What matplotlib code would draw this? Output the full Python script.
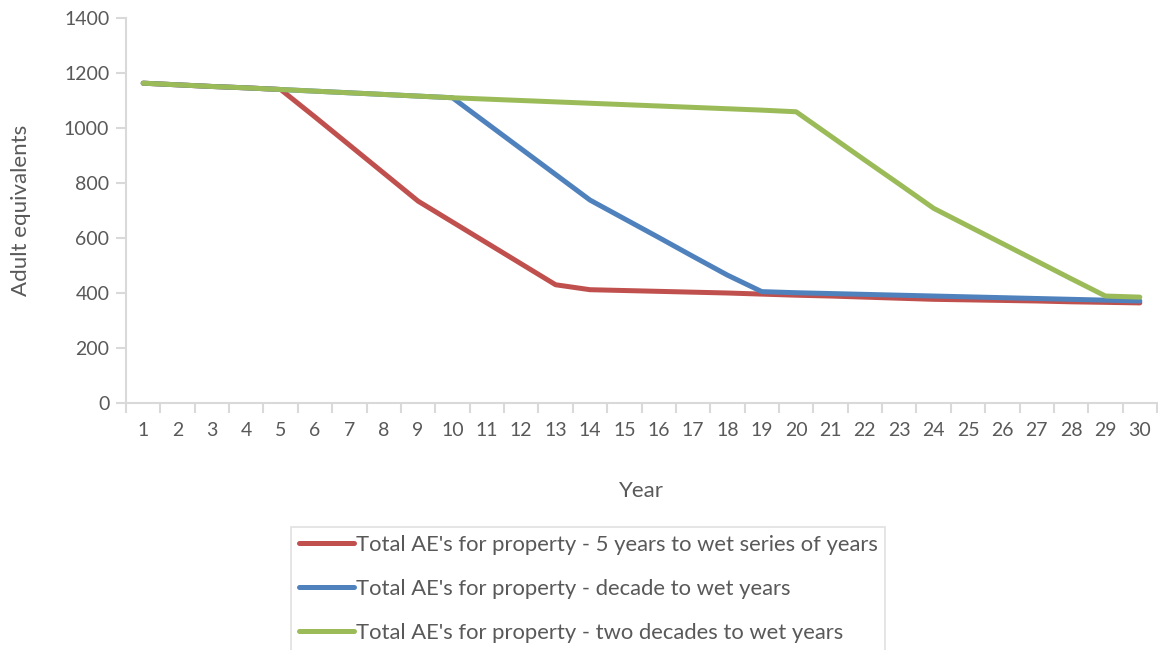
import numpy as np
import matplotlib.pyplot as plt

plt.rcParams['font.family'] = ['Lato', 'DejaVu Sans']

years = list(range(1, 31))

# adult equivalents per year for each scenario
ae_5yr = [1163, 1157, 1151, 1146, 1140, 1040, 938, 836, 734,
          658, 582, 506, 430, 412, 409, 406, 403, 400, 396, 392,
          389, 385, 381, 377, 375, 373, 371, 368, 366, 364]
ae_decade = [1163, 1157, 1151, 1146, 1140, 1134, 1128, 1122, 1116, 1110,
             1017, 924, 831, 738, 670, 602, 533, 465, 405, 401,
             398, 395, 392, 389, 386, 383, 380, 377, 374, 371]
ae_two_decades = [1163, 1157, 1151, 1146, 1140, 1134, 1128, 1122, 1116, 1110,
                  1105, 1100, 1095, 1090, 1085, 1080, 1075, 1070, 1065, 1059,
                  971, 883, 796, 708, 644, 580, 516, 452, 389, 385]

labels = ["Total AE's for property - 5 years to wet series of years",
          "Total AE's for property - decade to wet years",
          "Total AE's for property - two decades to wet years"]
colors = ['#C0504D', '#4F81BD', '#9BBB59']

fig = plt.figure(figsize=(11.58, 6.5), dpi=100)
ax = fig.add_axes([126 / 1158, 1 - 403 / 650, 1031 / 1158, 385 / 650])

x = np.arange(len(years))
for series, lab, col in zip([ae_5yr, ae_decade, ae_two_decades], labels, colors):
    ax.plot(x, series, color=col, lw=3.6, label=lab,
            solid_capstyle='round', solid_joinstyle='round')

ax.set_xlim(-0.5, len(years) - 0.5)
ax.set_ylim(0, 1400)
ax.set_yticks(range(0, 1401, 200))
ax.set_xticks(x)
ax.set_xticklabels([str(y) for y in years])
ax.set_xticks(np.arange(-0.5, len(years), 1), minor=True)

text_col = '#595959'
axis_col = '#d9d9d9'
for side in ['top', 'right']:
    ax.spines[side].set_visible(False)
for side in ['left', 'bottom']:
    ax.spines[side].set_color(axis_col)
    ax.spines[side].set_linewidth(1.5)

ax.tick_params(axis='x', which='major', length=0, labelsize=14,
               labelcolor=text_col, pad=14)
ax.tick_params(axis='x', which='minor', length=7, width=1.5, color=axis_col)
ax.tick_params(axis='y', length=7, width=1.5, color=axis_col,
               labelsize=14, labelcolor=text_col, pad=5)

ax.set_xlabel('Year', fontsize=16, color=text_col, labelpad=30)
ax.set_ylabel('Adult equivalents', fontsize=16, color=text_col, labelpad=24)

leg = fig.legend(loc='upper left', bbox_to_anchor=(291 / 1158, 1 - 527 / 650),
                 fontsize=15.8, frameon=True, fancybox=False,
                 handlelength=2.5, handletextpad=0.1, labelspacing=1.1,
                 borderpad=0.35, borderaxespad=0, labelcolor=text_col)
leg.get_frame().set_edgecolor(axis_col)
leg.get_frame().set_linewidth(1.2)

fig.savefig('out.png', dpi=100)
